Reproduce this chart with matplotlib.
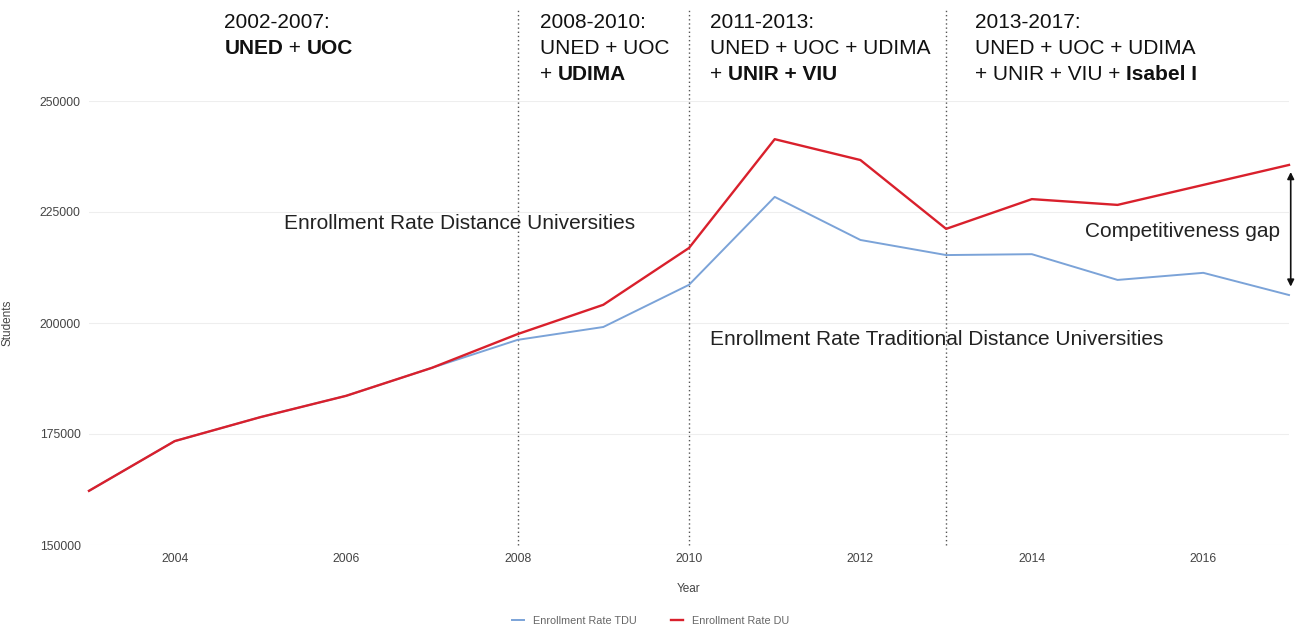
import matplotlib
matplotlib.use('Agg')
import matplotlib.pyplot as plt

plt.rcParams['font.family'] = ['Liberation Sans', 'DejaVu Sans']

# data
years = [2003, 2004, 2005, 2006, 2007, 2008, 2009, 2010, 2011, 2012, 2013, 2014, 2015, 2016, 2017]
tdu = [162200, 173400, 178800, 183600, 189900, 196200, 199100, 208600, 228400, 218700, 215300, 215500, 209700, 211300, 206300]
du = [162200, 173400, 178800, 183600, 189900, 197500, 204100, 216900, 241400, 236700, 221200, 227900, 226600, 231100, 235600]
y_ticks = [150000, 175000, 200000, 225000, 250000]
x_ticks = [2004, 2006, 2008, 2010, 2012, 2014, 2016]
period_years = [2008, 2010, 2013]

# period labels: lines made of (text, weight) parts
periods = [
    (2004.58, [[('2002-2007:', 'normal')],
               [('UNED', 'bold'), (' + ', 'normal'), ('UOC', 'bold')]]),
    (2008.26, [[('2008-2010:', 'normal')],
               [('UNED + UOC', 'normal')],
               [('+ ', 'normal'), ('UDIMA', 'bold')]]),
    (2010.25, [[('2011-2013:', 'normal')],
               [('UNED + UOC + UDIMA', 'normal')],
               [('+ ', 'normal'), ('UNIR + VIU', 'bold')]]),
    (2013.34, [[('2013-2017:', 'normal')],
               [('UNED + UOC + UDIMA', 'normal')],
               [('+ UNIR + VIU + ', 'normal'), ('Isabel I', 'bold')]]),
]

W, H = 1302, 628
fig = plt.figure(figsize=(W / 100, H / 100), dpi=100)
ax = fig.add_axes([89 / W, 1 - 545 / H, (1289 - 89) / W, (545 - 101) / H])

ax.plot(years, tdu, color='#7ba3d8', lw=1.4, label='Enrollment Rate TDU', zorder=3, clip_on=False)
ax.plot(years, du, color='#d9202c', lw=1.7, label='Enrollment Rate DU', zorder=4, clip_on=False)

ax.set_xlim(2003, 2017)
ax.set_ylim(150000, 250000)
ax.set_yticks(y_ticks)
ax.set_xticks(x_ticks)
ax.tick_params(length=0, labelsize=8.8, colors='#444444', pad=6)
ax.grid(axis='y', color='#eeeeee', lw=0.8)
for s in ax.spines.values():
    s.set_visible(False)
ax.set_xlabel('Year', fontsize=8.5, color='#444444', labelpad=13)
ax.set_ylabel('Students', fontsize=8.5, color='#444444')
ax.yaxis.set_label_coords((14 - 89) / (1289 - 89), 0.5)

# dotted separators from top of figure down to x axis
for py in period_years:
    ax.plot([py, py], [0, 1.207], transform=ax.get_xaxis_transform(), color='#555555',
            lw=1.0, ls=(0, (1, 2)), clip_on=False, zorder=2)

renderer = fig.canvas.get_renderer()


def width_px(txt, weight, size):
    t = fig.text(0, 0, 'x' + txt + 'x', fontsize=size, weight=weight)
    t2 = fig.text(0, 0, 'xx', fontsize=size, weight=weight)
    w = t.get_window_extent(renderer).width - t2.get_window_extent(renderer).width
    t.remove()
    t2.remove()
    return w


size = 15
line_y = [22, 48, 74]
for px, lines in periods:
    x0 = ax.transData.transform((px, 0))[0]
    for i, parts in enumerate(lines):
        x = x0
        for txt, weight in parts:
            fig.text(x / W, 1 - line_y[i] / H, txt, fontsize=size, weight=weight,
                     color='#111111', va='center', ha='left')
            x += width_px(txt, weight, size)

ax.text(2005.27, 222300, 'Enrollment Rate Distance Universities', fontsize=15,
        color='#222222', va='center', ha='left')
ax.text(2010.25, 196200, 'Enrollment Rate Traditional Distance Universities', fontsize=15,
        color='#222222', va='center', ha='left')
ax.text(2016.9, 220500, 'Competitiveness gap', fontsize=15, color='#222222',
        va='center', ha='right')
ax.annotate('', xy=(2017.02, 234000), xytext=(2017.02, 208200),
            arrowprops=dict(arrowstyle='<|-|>', color='#111111', lw=1.2,
                            mutation_scale=10, shrinkA=0, shrinkB=0),
            annotation_clip=False)

ax.legend(loc='lower center', bbox_to_anchor=(0.468, -0.205), ncol=2, frameon=False,
          fontsize=7.8, handlelength=1.1, handletextpad=0.9, columnspacing=3.1,
          labelcolor='#666666')

fig.savefig('out.png', dpi=100)
